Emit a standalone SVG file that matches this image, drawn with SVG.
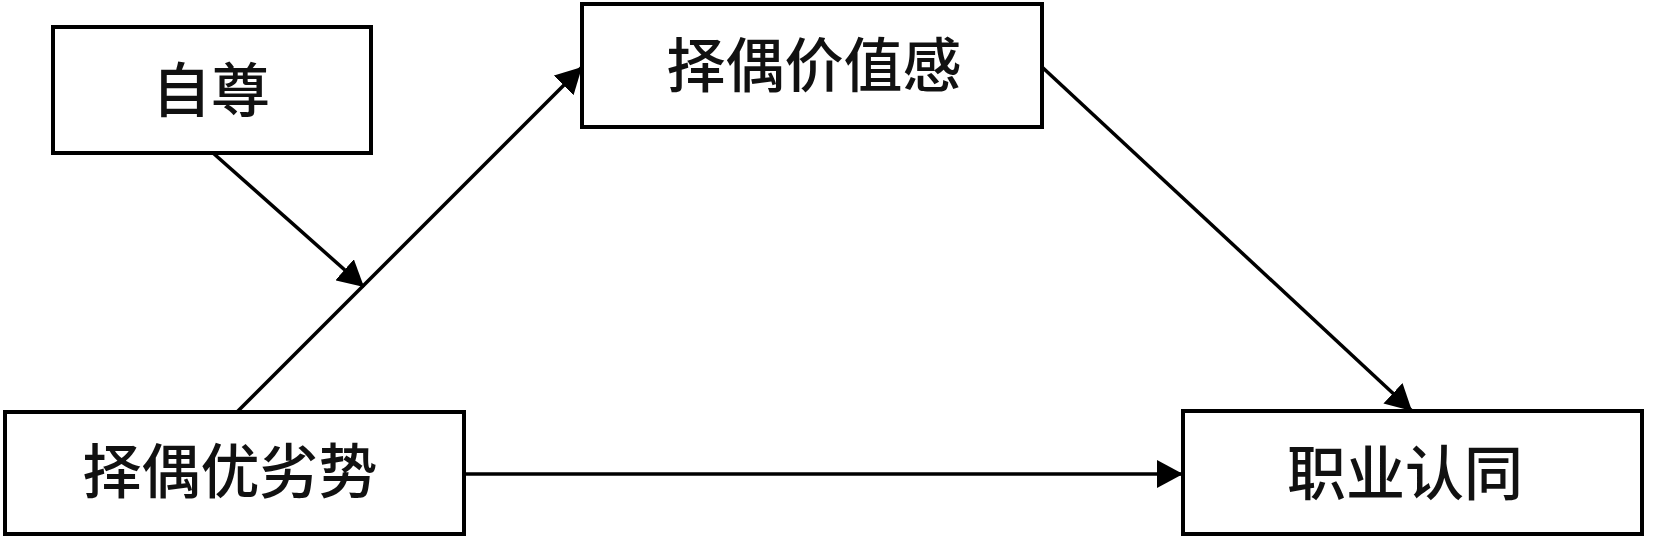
<svg xmlns="http://www.w3.org/2000/svg" width="1654" height="546" viewBox="0 0 1654 546">
<style>
.box{fill:#fff;stroke:#000;stroke-width:4}
.lbl{font-family:"Noto Sans CJK SC","Noto Sans CJK JP",sans-serif;font-size:59px;font-weight:500;fill:#111;text-anchor:middle}
.con{stroke:#000;stroke-width:3.5;fill:none;marker-end:url(#ah)}
</style>
<defs>
<marker id="ah" markerUnits="userSpaceOnUse" markerWidth="27" markerHeight="28" refX="26" refY="14" orient="auto">
<path d="M0,0 L26,14 L0,28 z" fill="#000"/>
</marker>
</defs>
<rect width="1654" height="546" fill="#fff"/>
<g id="connectors">
<line class="con" x1="213" y1="153" x2="364" y2="287"/>
<line class="con" x1="237" y1="412" x2="582" y2="67"/>
<line class="con" x1="1042" y1="67" x2="1412" y2="411"/>
<line class="con" x1="464" y1="474" x2="1183" y2="474"/>
</g>
<g id="node-zizun">
<rect class="box" x="53" y="27" width="318" height="126"/>
<text class="lbl" x="211" y="112">自尊</text>
</g>
<g id="node-jiazhigan">
<rect class="box" x="582" y="4" width="460" height="123"/>
<text class="lbl" x="814" y="87">择偶价值感</text>
</g>
<g id="node-youlieshi">
<rect class="box" x="5" y="412" width="459" height="122"/>
<text class="lbl" x="230" y="493">择偶优劣势</text>
</g>
<g id="node-zhiye">
<rect class="box" x="1183" y="411" width="459" height="123"/>
<text class="lbl" x="1405" y="495">职业认同</text>
</g>
</svg>
